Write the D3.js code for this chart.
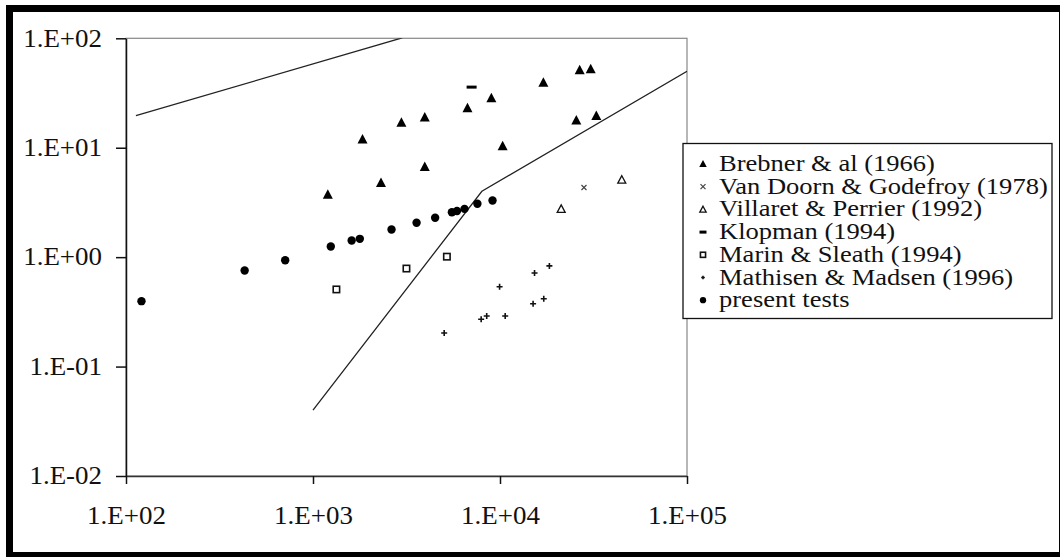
<!DOCTYPE html>
<html>
<head>
<meta charset="utf-8">
<script src="https://cdn.jsdelivr.net/npm/d3@7"></script>
<style>
  body { margin: 0; background: #fff; }
  text { font-family: "Liberation Serif", "Times New Roman", serif; }
</style>
</head>
<body>
<div id="chart"></div>
<script>
// series values, [x, y]
var brebner = [[26670, 51.0], [30550, 52.1], [17060, 39.3], [8990, 28.3], [6700, 22.9],
               [3960, 18.9], [2970, 16.9], [1840, 11.9], [25590, 17.7], [32740, 19.5],
               [10330, 10.3], [3960, 6.68], [2310, 4.75], [1200, 3.71]];
var vanDoorn = [[28120, 4.33]];
var villaret = [[44800, 5.10], [21240, 2.76]];
var klopman = [[7050, 35.8]];
var marin = [[1334, 0.507], [3160, 0.787], [5200, 1.01]];
var mathisen = [[18370, 0.832], [15300, 0.717], [9950, 0.537], [17140, 0.417], [15030, 0.375],
                [8490, 0.290], [7930, 0.271], [10660, 0.290], [5030, 0.203]];
var present = [[9120, 3.29], [7570, 3.08], [6460, 2.76], [5890, 2.64], [5530, 2.57],
               [4500, 2.29], [3580, 2.06], [2630, 1.79], [1780, 1.47], [1610, 1.42],
               [1245, 1.25], [710, 0.938], [431, 0.754], [121, 0.396]];
var upperLine = [[113, 19.6], [3000, 101]];
var lowerLine = [[1000, 0.04], [8000, 4], [100000, 50]];

var legendNames = ["Brebner & al (1966)", "Van Doorn & Godefroy (1978)", "Villaret & Perrier (1992)",
                   "Klopman (1994)", "Marin & Sleath (1994)", "Mathisen & Madsen (1996)", "present tests"];
var xTicks = [1e2, 1e3, 1e4, 1e5];
var xTickLabels = ["1.E+02", "1.E+03", "1.E+04", "1.E+05"];
var yTicks = [1e-2, 1e-1, 1e0, 1e1, 1e2];
var yTickLabels = ["1.E-02", "1.E-01", "1.E+00", "1.E+01", "1.E+02"];

drawChart();

function drawChart() {
  var W = 1060, H = 557;
  var svg = d3.select("#chart").append("svg").attr("width", W).attr("height", H);

  var plot = {left: 126, right: 687, top: 38.3, bottom: 476};
  var x = d3.scaleLog().domain([1e2, 1e5]).range([plot.left, plot.right]);
  var y = d3.scaleLog().domain([1e-2, 1e2]).range([plot.bottom, plot.top]);

  // the original lettering is wide and short: smaller size, stretched sideways
  var stretch = 1.1;

  // plot area border (grey)
  svg.append("rect")
      .attr("x", plot.left).attr("y", plot.top)
      .attr("width", plot.right - plot.left).attr("height", plot.bottom - plot.top)
      .attr("fill", "#fff").attr("stroke", "#888").attr("stroke-width", 1.2);

  svg.append("clipPath").attr("id", "plotclip")
    .append("rect")
      .attr("x", plot.left).attr("y", plot.top)
      .attr("width", plot.right - plot.left).attr("height", plot.bottom - plot.top);

  // axes
  var yAxis = svg.append("g")
      .attr("transform", "translate(" + plot.left + ",0)")
      .call(d3.axisLeft(y).tickValues(yTicks)
        .tickFormat(function(d, i) { return yTickLabels[i]; })
        .tickSize(10).tickSizeOuter(0).tickPadding(14));

  var xAxis = svg.append("g")
      .attr("transform", "translate(0," + plot.bottom + ")")
      .call(d3.axisBottom(x).tickValues(xTicks)
        .tickFormat(function(d, i) { return xTickLabels[i]; })
        .tickSize(8).tickSizeOuter(0).tickPadding(23));

  [xAxis, yAxis].forEach(function(a) {
    a.attr("font-family", null).attr("font-size", null);
    a.selectAll("text")
        .attr("font-size", "24.5px").attr("fill", "#111")
        .attr("x", function() { return (+d3.select(this).attr("x") || 0) / stretch; })
        .attr("transform", "scale(" + stretch + ",1)");
    a.selectAll("line, path").attr("stroke", "#111").attr("stroke-width", 1.5);
  });
  xAxis.select(".domain").attr("stroke", "#333");

  // fitted lines
  var line = d3.line()
      .x(function(d) { return x(d[0]); })
      .y(function(d) { return y(d[1]); });

  var lines = svg.append("g").attr("clip-path", "url(#plotclip)");
  [upperLine, lowerLine].forEach(function(l) {
    lines.append("path")
        .datum(l)
        .attr("d", line)
        .attr("fill", "none")
        .attr("stroke", "#222")
        .attr("stroke-width", 1.3);
  });

  var series = [
    {data: brebner, kind: "triFill", legend: 0.75},
    {data: vanDoorn, kind: "cross", legend: 1},
    {data: villaret, kind: "triOpen", legend: 0.8},
    {data: klopman, kind: "dash", legend: 0.7},
    {data: marin, kind: "square", legend: 0.8},
    {data: mathisen, kind: "plus", legend: 0.6},
    {data: present, kind: "dot", legend: 0.75}
  ];

  var marks = svg.append("g");
  series.forEach(function(s) {
    marks.selectAll(null)
      .data(s.data)
      .enter().append("g")
        .attr("transform", function(d) { return "translate(" + x(d[0]) + "," + y(d[1]) + ")"; })
        .each(function() { drawMarker(d3.select(this), s.kind, 1); });
  });

  // legend
  var legend = svg.append("g");
  legend.append("rect")
      .attr("x", 683).attr("y", 143.5)
      .attr("width", 369).attr("height", 175)
      .attr("fill", "#fff").attr("stroke", "#111").attr("stroke-width", 1.3);

  series.forEach(function(s, i) {
    var ry = 164 + i * 22.7;
    var item = legend.append("g").attr("transform", "translate(703," + ry + ")");
    drawMarker(item, s.kind, s.legend);
    legend.append("text")
        .attr("transform", "translate(719," + (ry + 7) + ") scale(1.13,1)")
        .attr("font-size", "23.5px").attr("fill", "#111")
        .text(legendNames[i]);
  });

  // outer black frame
  svg.append("rect")
      .attr("x", 9.5).attr("y", 8.5)
      .attr("width", 1053).attr("height", 547)
      .attr("fill", "none").attr("stroke", "#000").attr("stroke-width", 7);
}

// marker drawers, s = scale factor
function drawMarker(g, kind, s) {
  if (kind === "triFill") {
    g.append("path").attr("d", "M0," + (-5.5 * s) + "L" + (5 * s) + "," + (4 * s) + "L" + (-5 * s) + "," + (4 * s) + "Z")
      .attr("fill", "#000");
  } else if (kind === "cross") {
    var c = 2.5 * s;
    g.append("path").attr("d", "M" + (-c) + "," + (-c) + "L" + c + "," + c + "M" + (-c) + "," + c + "L" + c + "," + (-c))
      .attr("stroke", "#444").attr("stroke-width", 1.2);
  } else if (kind === "triOpen") {
    g.append("path").attr("d", "M0," + (-4 * s) + "L" + (4 * s) + "," + (3.5 * s) + "L" + (-4 * s) + "," + (3.5 * s) + "Z")
      .attr("fill", "#fff").attr("stroke", "#111").attr("stroke-width", 1.3);
  } else if (kind === "dash") {
    g.append("rect").attr("x", -5 * s).attr("y", -1.5).attr("width", 10 * s).attr("height", 3)
      .attr("fill", "#000");
  } else if (kind === "square") {
    g.append("rect").attr("x", -3.2 * s).attr("y", -3.2 * s).attr("width", 6.4 * s).attr("height", 6.4 * s)
      .attr("fill", "#fff").attr("stroke", "#111").attr("stroke-width", 1.6);
  } else if (kind === "plus") {
    var p = 3 * s;
    g.append("path").attr("d", "M" + (-p) + ",0L" + p + ",0M0," + (-p) + "L0," + p)
      .attr("stroke", "#111").attr("stroke-width", 1.6);
  } else if (kind === "dot") {
    g.append("circle").attr("r", 4.2 * s).attr("fill", "#000");
  }
}
</script>
</body>
</html>
